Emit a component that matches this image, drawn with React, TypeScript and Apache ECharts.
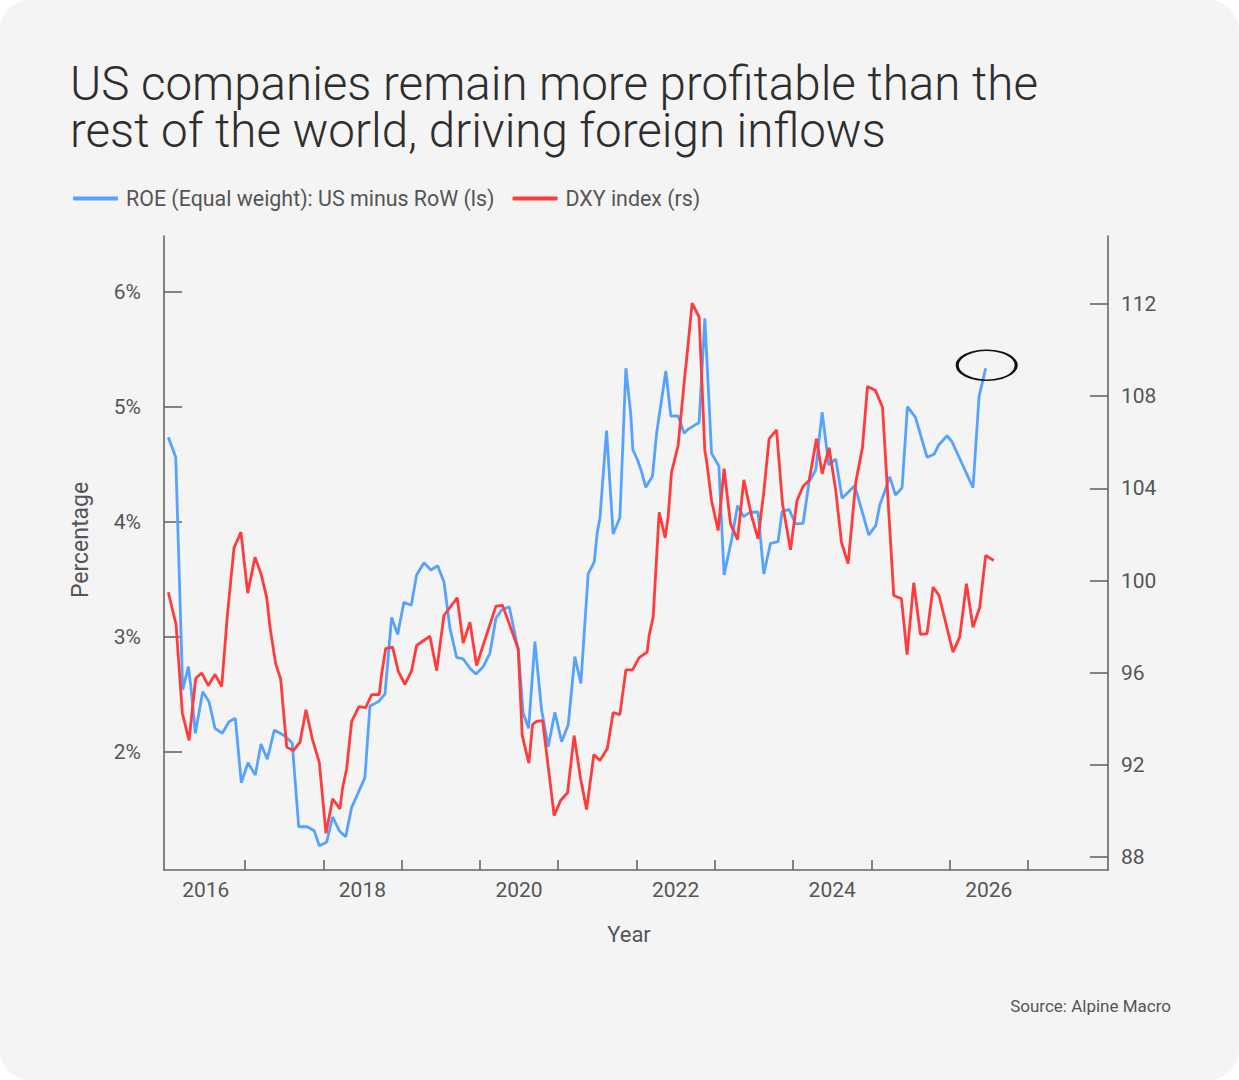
import React, { useEffect, useRef } from "react";
import * as echarts from "echarts";

const titleText =
  "US companies remain more profitable than the\nrest of the world, driving foreign inflows";
const roeName = "ROE (Equal weight): US minus RoW (ls)";
const dxyName = "DXY index (rs)";

const roeDates = [
  2015.521, 2015.616, 2015.705, 2015.777, 2015.807, 2015.866, 2015.96, 2016.041, 2016.117, 2016.211,
  2016.296, 2016.377, 2016.453, 2016.539, 2016.632, 2016.705, 2016.785, 2016.875, 2017.011, 2017.104,
  2017.186, 2017.296, 2017.385, 2017.449, 2017.543, 2017.62, 2017.704, 2017.786, 2017.863, 2018.032,
  2018.096, 2018.202, 2018.288, 2018.373, 2018.45, 2018.53, 2018.624, 2018.692, 2018.786, 2018.875,
  2018.961, 2019.041, 2019.118, 2019.203, 2019.287, 2019.373, 2019.449, 2019.543, 2019.628, 2019.705,
  2019.778, 2019.875, 2019.99, 2020.053, 2020.122, 2020.203, 2020.288, 2020.373, 2020.458, 2020.544,
  2020.628, 2020.713, 2020.79, 2020.883, 2020.96, 2020.998, 2021.033, 2021.118, 2021.202, 2021.288,
  2021.365, 2021.428, 2021.454, 2021.514, 2021.565, 2021.62, 2021.705, 2021.756, 2021.82, 2021.875,
  2021.939, 2022.032, 2022.109, 2022.16, 2022.245, 2022.3, 2022.373, 2022.459, 2022.552, 2022.619,
  2022.714, 2022.791, 2022.867, 2022.948, 2023.053, 2023.126, 2023.212, 2023.309, 2023.36, 2023.449,
  2023.534, 2023.628, 2023.705, 2023.79, 2023.871, 2023.956, 2024.045, 2024.126, 2024.288, 2024.467,
  2024.556, 2024.607, 2024.658, 2024.735, 2024.808, 2024.892, 2024.961, 2025.063, 2025.211, 2025.301,
  2025.36, 2025.466, 2025.53, 2025.798, 2025.875, 2025.96,
];
const roeValues = [
  4.737, 4.563, 2.539, 2.742, 2.583, 2.163, 2.524, 2.437, 2.206, 2.163,
  2.263, 2.293, 1.733, 1.907, 1.8, 2.07, 1.937, 2.191, 2.139, 2.076,
  1.35, 1.35, 1.316, 1.185, 1.215, 1.437, 1.316, 1.263, 1.519, 1.777,
  2.4, 2.437, 2.504, 3.171, 3.023, 3.302, 3.276, 3.539, 3.646, 3.583,
  3.62, 3.481, 3.076, 2.823, 2.809, 2.728, 2.678, 2.742, 2.858, 3.163,
  3.235, 3.263, 2.887, 2.337, 2.206, 2.959, 2.365, 2.046, 2.345, 2.09,
  2.235, 2.829, 2.597, 3.548, 3.652, 3.902, 4.032, 4.794, 3.896, 4.037,
  5.337, 4.93, 4.626, 4.539, 4.437, 4.302, 4.4, 4.765, 5.061, 5.313,
  4.922, 4.922, 4.771, 4.806, 4.843, 4.863, 5.771, 4.597, 4.487, 3.539,
  3.843, 4.142, 4.046, 4.084, 4.087, 3.548, 3.815, 3.829, 4.09, 4.11,
  3.983, 3.989, 4.35, 4.452, 4.954, 4.496, 4.548, 4.206, 4.316, 3.887,
  3.968, 4.148, 4.241, 4.394, 4.235, 4.298, 5.003, 4.91, 4.563, 4.589,
  4.67, 4.75, 4.698, 4.298, 5.09, 5.337,
];

const dxyDates = [
  2015.521, 2015.62, 2015.7, 2015.786, 2015.871, 2015.948, 2016.032, 2016.117, 2016.203, 2016.274,
  2016.36, 2016.449, 2016.535, 2016.628, 2016.705, 2016.777, 2016.82, 2016.892, 2016.956, 2017.033,
  2017.117, 2017.203, 2017.279, 2017.36, 2017.449, 2017.535, 2017.62, 2017.713, 2017.748, 2017.799,
  2017.863, 2017.956, 2018.041, 2018.118, 2018.215, 2018.246, 2018.297, 2018.386, 2018.458, 2018.543,
  2018.629, 2018.692, 2018.862, 2018.948, 2019.041, 2019.211, 2019.287, 2019.373, 2019.458, 2019.705,
  2019.79, 2019.99, 2020.041, 2020.126, 2020.173, 2020.224, 2020.301, 2020.449, 2020.531, 2020.62,
  2020.704, 2020.786, 2020.863, 2020.956, 2021.033, 2021.128, 2021.202, 2021.288, 2021.365, 2021.45,
  2021.534, 2021.636, 2021.662, 2021.713, 2021.79, 2021.866, 2021.904, 2021.948, 2022.032, 2022.118,
  2022.139, 2022.211, 2022.3, 2022.373, 2022.395, 2022.459, 2022.543, 2022.619, 2022.701, 2022.791,
  2022.871, 2022.969, 2023.053, 2023.126, 2023.194, 2023.289, 2023.365, 2023.467, 2023.551, 2023.628,
  2023.705, 2023.799, 2023.871, 2023.96, 2024.045, 2024.118, 2024.203, 2024.301, 2024.386, 2024.45,
  2024.552, 2024.642, 2024.786, 2024.884, 2024.956, 2025.041, 2025.127, 2025.211, 2025.288, 2025.364,
  2025.542, 2025.628, 2025.714, 2025.798, 2025.884, 2025.96, 2026.063,
];
const dxyValues = [
  99.49, 98.09, 94.24, 93.06, 95.76, 95.98, 95.44, 95.92, 95.4, 98.44,
  101.42, 102.1, 99.45, 101.01, 100.29, 99.28, 97.97, 96.39, 95.73, 92.77,
  92.62, 92.98, 94.39, 93.13, 92.11, 89.03, 90.53, 90.09, 91.03, 91.83,
  93.89, 94.53, 94.48, 95.05, 95.05, 95.95, 97.04, 97.11, 96.06, 95.49,
  96.09, 97.18, 97.58, 96.09, 98.48, 99.25, 97.28, 98.19, 96.31, 98.89,
  98.92, 97.04, 93.27, 92.07, 93.75, 93.89, 93.92, 89.8, 90.45, 90.79,
  93.27, 91.41, 90.06, 92.45, 92.19, 92.71, 94.27, 94.18, 96.12, 96.12,
  96.65, 96.89, 97.61, 98.41, 102.96, 101.85, 102.75, 104.7, 105.86, 108.9,
  109.55, 112.04, 111.43, 105.64, 105.21, 103.47, 102.17, 104.85, 102.46, 101.77,
  104.37, 102.82, 101.81, 103.83, 106.15, 106.54, 103.33, 101.33, 103.47, 104.09,
  104.34, 106.15, 104.63, 105.76, 103.91, 101.66, 100.73, 104.27, 105.76, 108.42,
  108.25, 107.52, 99.35, 99.21, 96.78, 99.9, 97.66, 97.69, 99.71, 99.35,
  96.89, 97.54, 99.86, 97.97, 98.84, 101.09, 100.87,
];

const yearLabels = [2016, 2018, 2020, 2022, 2024, 2026];
const yearTicks = [2016.5, 2017.5, 2018.5, 2019.5, 2020.5, 2021.5, 2022.5, 2023.5, 2024.5, 2025.5, 2026.5];
const pctTicks = [2, 3, 4, 5, 6];
const dxyTicks = [88, 92, 96, 100, 104, 108, 112];

const FONT = "Roboto, 'Noto Sans', sans-serif";
const AXIS = "#666666";
const LABEL = "#555555";
const BLUE = "#55a3ff";
const RED = "#ff3b3b";

export default function App() {
  const ref = useRef<HTMLDivElement>(null);
  useEffect(() => {
    if (!ref.current) return;
    const chart = echarts.init(ref.current, null, { renderer: "svg" });
    const lastIdx = roeDates.length - 1;
    chart.setOption({
      animation: false,
      backgroundColor: "transparent",
      textStyle: { fontFamily: FONT },
      title: {
        text: titleText,
        left: 70,
        top: 60,
        padding: 0,
        textStyle: { fontFamily: FONT, fontSize: 47.5, lineHeight: 47.5, fontWeight: 300, color: "#2e2e2e" },
      },
      legend: {
        left: 73,
        top: 188,
        padding: 0,
        icon: "roundRect",
        itemWidth: 45,
        itemHeight: 4,
        itemGap: 18,
        textStyle: { fontFamily: FONT, fontSize: 21.4, color: LABEL, padding: [0, 0, 0, 3] },
        data: [roeName, dxyName],
      },
      grid: { left: 164, right: 131, top: 236, bottom: 210 },
      xAxis: {
        type: "value",
        min: 2015.466,
        max: 2027.522,
        axisLine: { show: true, onZero: false, lineStyle: { color: AXIS, width: 1.6 } },
        axisTick: { show: true, inside: true, length: 10, customValues: yearTicks, lineStyle: { color: AXIS, width: 1.6 } },
        axisLabel: {
          customValues: yearLabels,
          formatter: (v: number) => String(Math.round(v)),
          fontSize: 21,
          color: LABEL,
          margin: 9,
          fontFamily: FONT,
        },
        splitLine: { show: false },
      },
      yAxis: [
        {
          type: "value",
          position: "left",
          min: 0.974,
          max: 6.487,
          axisLine: { show: true, onZero: false, lineStyle: { color: AXIS, width: 1.6 } },
          axisTick: { show: true, inside: true, length: 18, customValues: pctTicks, lineStyle: { color: AXIS, width: 1.6 } },
          axisLabel: {
            customValues: pctTicks,
            formatter: (v: number) => `${Math.round(v)}%`,
            fontSize: 21,
            color: LABEL,
            margin: 23,
            fontFamily: FONT,
          },
          splitLine: { show: false },
        },
        {
          type: "value",
          position: "right",
          min: 87.436,
          max: 114.951,
          axisLine: { show: true, onZero: false, lineStyle: { color: AXIS, width: 1.6 } },
          axisTick: { show: true, inside: true, length: 18, customValues: dxyTicks, lineStyle: { color: AXIS, width: 1.6 } },
          axisLabel: {
            customValues: dxyTicks,
            formatter: (v: number) => String(Math.round(v)),
            fontSize: 21,
            color: LABEL,
            margin: 13,
            fontFamily: FONT,
          },
          splitLine: { show: false },
        },
      ],
      graphic: [
        {
          type: "text",
          x: 80,
          y: 540,
          rotation: Math.PI / 2,
          style: {
            text: "Percentage",
            fill: LABEL,
            fontSize: 23,
            fontFamily: FONT,
            textAlign: "center",
            textVerticalAlign: "middle",
            align: "center",
            verticalAlign: "middle",
          },
        },
        {
          type: "text",
          x: 629,
          y: 934,
          style: {
            text: "Year",
            fill: LABEL,
            fontSize: 22,
            fontFamily: FONT,
            textAlign: "center",
            textVerticalAlign: "middle",
            align: "center",
            verticalAlign: "middle",
          },
        },
        {
          type: "text",
          x: 1171,
          y: 1006,
          style: {
            text: "Source: Alpine Macro",
            fill: LABEL,
            fontSize: 17,
            fontFamily: FONT,
            textAlign: "right",
            textVerticalAlign: "middle",
            align: "right",
            verticalAlign: "middle",
          },
        },
      ],
      series: [
        {
          name: roeName,
          type: "line",
          yAxisIndex: 0,
          data: roeDates.map((d, i) => [d, roeValues[i]]),
          showSymbol: false,
          symbol: "none",
          color: BLUE,
          lineStyle: { color: BLUE, width: 2.8 },
          markPoint: {
            symbol: "circle",
            symbolSize: [59, 30],
            symbolOffset: [1, -3],
            silent: true,
            label: { show: false },
            itemStyle: { color: "transparent", borderColor: "#111111", borderWidth: 2.2 },
            data: [{ coord: [roeDates[lastIdx], roeValues[lastIdx]] }],
          },
        },
        {
          name: dxyName,
          type: "line",
          yAxisIndex: 1,
          data: dxyDates.map((d, i) => [d, dxyValues[i]]),
          showSymbol: false,
          symbol: "none",
          color: RED,
          lineStyle: { color: RED, width: 2.8 },
        },
      ],
    });
    return () => chart.dispose();
  }, []);

  return (
    <div style={{ position: "absolute", left: 0, top: 0, width: 1239, height: 1080, background: "#ffffff" }}>
      <div
        style={{ position: "absolute", left: 0, top: 0, width: 1239, height: 1080, background: "#f4f4f4", borderRadius: 30 }}
      />
      <div ref={ref} style={{ position: "absolute", left: 0, top: 0, width: 1239, height: 1080 }} />
    </div>
  );
}
